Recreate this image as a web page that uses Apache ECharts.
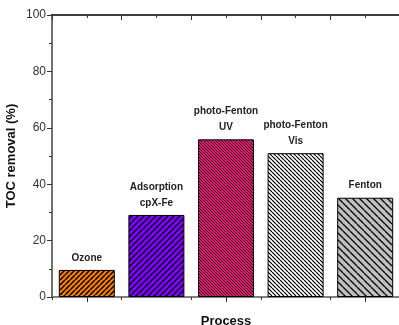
<!DOCTYPE html>
<html><head><meta charset="utf-8">
<script src="https://cdn.jsdelivr.net/npm/echarts@6/dist/echarts.min.js"></script>
<style>html,body{margin:0;padding:0;background:#fff}#c{width:399px;height:325px}</style>
</head><body><div id="c"></div>
<script>
var categories = ["Ozone", "Adsorption\ncpX-Fe", "photo-Fenton\nUV", "photo-Fenton\nVis", "Fenton"];
var tocRemoval = [9.6, 29.1, 55.9, 51.0, 35.2];
var yTicks = [0, 20, 40, 60, 80, 100];

function hatch(bg, period, dir, lw) {
  var c = document.createElement('canvas');
  c.width = period; c.height = period;
  var g = c.getContext('2d');
  g.fillStyle = bg; g.fillRect(0, 0, period, period);
  g.strokeStyle = '#000'; g.lineWidth = lw;
  g.beginPath();
  for (var k = -1; k <= 1; k++) {
    if (dir === '/') { g.moveTo(k * period, period); g.lineTo(k * period + period, 0); }
    else { g.moveTo(k * period, 0); g.lineTo(k * period + period, period); }
  }
  g.stroke();
  return { image: c, repeat: 'repeat' };
}
var fills = [
  hatch('#FF8000', 5, '/', 1.5),
  hatch('#8000FF', 6, '/', 1.4),
  hatch('#F0107A', 3, '\\', 0.9),
  hatch('#FFFFFF', 4, '\\', 1.2),
  hatch('#C0C0C0', 7, '\\', 1.3)
];

var chart = echarts.init(document.getElementById('c'), null, {renderer: 'canvas'});
chart.setOption({
  animation: false,
  grid: {left: 52, right: -1, top: 15, bottom: 28, containLabel: false, outerBoundsMode: 'none'},
  xAxis: [
    {type: 'category', data: categories, position: 'bottom',
     name: 'Process', nameLocation: 'middle', nameGap: 18, nameMoveOverlap: false,
     nameTextStyle: {fontFamily: 'Arial, Liberation Sans', fontWeight: 'bold', fontSize: 13, color: '#111'},
     axisLine: {show: true, lineStyle: {color: '#555', width: 1.5}},
     axisTick: {show: true, alignWithLabel: true, length: 5, lineStyle: {color: '#333'}},
     axisLabel: {show: false}, splitLine: {show: false}},
    {type: 'value', position: 'bottom', min: 0, max: 5, interval: 1,
     axisLine: {show: false}, axisTick: {show: true, length: 3, lineStyle: {color: '#333'}},
     axisLabel: {show: false}, splitLine: {show: false}},
    {type: 'value', position: 'top', min: 0, max: 5, interval: 1,
     axisLine: {show: true, lineStyle: {color: '#000', width: 1.5}},
     axisTick: {show: true, inside: true, length: 5, lineStyle: {color: '#333'}},
     minorTick: {show: true, splitNumber: 2, length: 3, lineStyle: {color: '#333'}},
     axisLabel: {show: false}, splitLine: {show: false}, minorSplitLine: {show: false}}
  ],
  yAxis: [
    {type: 'value', min: 0, max: 100, interval: 20, position: 'left',
     name: 'TOC removal (%)', nameLocation: 'middle', nameGap: 34, nameMoveOverlap: false,
     nameTextStyle: {fontFamily: 'Arial, Liberation Sans', fontWeight: 'bold', fontSize: 13, color: '#111'},
     axisLine: {show: true, lineStyle: {color: '#707070', width: 2}},
     axisTick: {show: true, length: 5, lineStyle: {color: '#333'}},
     minorTick: {show: true, splitNumber: 2, length: 3, lineStyle: {color: '#333'}},
     axisLabel: {margin: 6, fontFamily: 'Arial, Liberation Sans', fontSize: 12, color: '#333',
       formatter: function (v) { return yTicks.indexOf(v) >= 0 ? String(v) : ''; }},
     splitLine: {show: false}, minorSplitLine: {show: false}},
    {type: 'value', min: 0, max: 100, interval: 20, position: 'right',
     axisLine: {show: false},
     axisTick: {show: true, inside: true, length: 4, lineStyle: {color: '#333'}},
     minorTick: {show: true, splitNumber: 2, length: 2, lineStyle: {color: '#333'}},
     axisLabel: {show: false}, splitLine: {show: false}, minorSplitLine: {show: false}}
  ],
  series: [{
    type: 'bar', xAxisIndex: 0, yAxisIndex: 0, barWidth: 56,
    data: tocRemoval.map(function (v, i) {
      return {value: v, itemStyle: {color: fills[i], borderColor: '#000', borderWidth: 1}};
    }),
    label: {show: true, position: 'top', distance: 4, formatter: '{b}',
      fontFamily: 'Arial, Liberation Sans', fontWeight: 'bold', fontSize: 10, lineHeight: 16, color: '#222'}
  }]
});
</script></body></html>
